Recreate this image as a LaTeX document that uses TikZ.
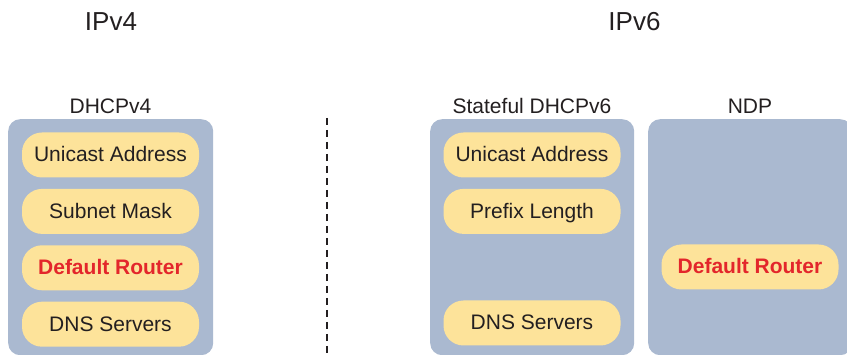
\documentclass[tikz,border=0pt]{standalone}
\usepackage{fontspec}
\setmainfont{Liberation Sans}
\usetikzlibrary{positioning}

\definecolor{panelblue}{HTML}{AAB9D0}
\definecolor{pillyellow}{HTML}{FDE39A}
\definecolor{routerred}{HTML}{E3262B}
\definecolor{inkdark}{HTML}{231F20}

\begin{document}
\begin{tikzpicture}[x=1pt, y=1pt,
    panel/.style={fill=panelblue, rounded corners=12pt, minimum width=205pt,
                  minimum height=236pt, anchor=north west, inner sep=0pt},
    pill/.style={fill=pillyellow, rounded corners=20pt, minimum width=177pt,
                 minimum height=45pt, inner sep=0pt, text=inkdark,
                 text height=14pt, text depth=0pt,
                 font=\fontsize{21}{21}\selectfont},
    hot/.style={pill, text=routerred, font=\fontsize{21}{21}\selectfont\bfseries},
    lbl/.style={text=inkdark, font=\fontsize{21}{21}\selectfont},
    ver/.style={text=inkdark, font=\fontsize{26}{26}\selectfont}]
    \clip (0,0) rectangle (847,-355);

    % Titles
    \node[ver] (ipv4) at (111,-22) {IPv4};
    \node[ver] (ipv6) at (634.5,-22) {IPv6};

    % Panels
    \node[panel] (v4box) at (8,-119) {};
    \node[panel, minimum width=204pt] (v6box) at (430,-119) {};
    \node[panel, minimum width=204pt] (ndpbox) at (648,-119) {};

    \node[lbl] (v4lbl) at (110.5,-106) {DHCPv4};
    \node[lbl] (v6lbl) at (532,-106) {Stateful DHCPv6};
    \node[lbl] (ndplbl) at (750,-106) {NDP};

    % IPv4 side
    \node[pill] (v4addr) at (110.5,-155) {Unicast Address};
    \node[pill, below=11pt of v4addr] (v4mask) {Subnet Mask};
    \node[hot, below=11pt of v4mask] (v4gw) {Default Router};
    \node[pill, below=11pt of v4gw] (v4dns) {DNS Servers};

    % IPv6 side
    \node[pill] (v6addr) at (532,-155) {Unicast Address};
    \node[pill, below=11pt of v6addr] (v6len) {Prefix Length};
    \node[pill] (v6dns) at (532,-323) {DNS Servers};
    \node[hot] (ndpgw) at (750,-267) {Default Router};

    % Divider
    \coordinate (divtop) at (327,-118);
    \coordinate (divbot) at (327,-360);
    \draw[inkdark, line width=2pt, dash pattern=on 7pt off 5pt] (divtop) -- (divbot);
\end{tikzpicture}
\end{document}
